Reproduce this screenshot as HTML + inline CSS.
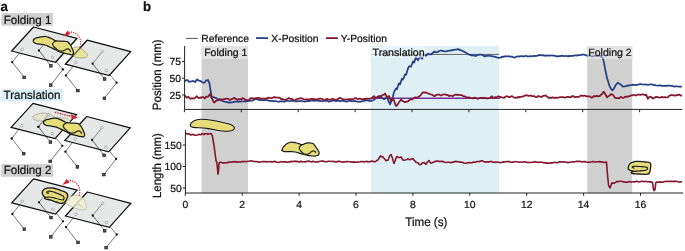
<!DOCTYPE html><html><head><meta charset="utf-8"><title>Figure</title><style>html,body{margin:0;padding:0;background:#fff}svg{display:block}text{font-family:"Liberation Sans",Arial,sans-serif;fill:#111;stroke:#111;stroke-width:0.22px;text-rendering:geometricPrecision}</style></head><body>
<svg width="685" height="251" viewBox="0 0 685 251">
<rect width="685" height="251" fill="#fff"/>
<rect x="201.6" y="46" width="46.4" height="147" fill="#d0d0d0"/>
<rect x="371" y="46" width="128" height="147" fill="#dff0f4"/>
<rect x="587.2" y="46" width="45" height="147" fill="#d0d0d0"/>
<rect x="201.6" y="46" width="46.4" height="13.1" fill="#e2e2e2"/>
<rect x="587.2" y="46" width="45" height="13.1" fill="#e2e2e2"/>
<path d="M371 54.4H499" stroke="#555" stroke-width="0.9" fill="none"/>
<path d="M371 98.3H500" stroke="#7a32a2" stroke-width="1.5" fill="none"/>
<path d="M184.6 81.3 L185.8 80.4 L187.0 80.0 L188.0 80.7 L189.0 81.9 L190.0 81.7 L191.1 81.3 L192.1 81.3 L193.1 80.9 L194.1 81.6 L195.2 81.9 L196.2 80.4 L197.2 79.3 L198.2 80.4 L199.2 80.7 L200.1 80.9 L201.1 81.4 L202.0 82.1 L203.0 82.5 L204.0 82.8 L205.0 82.1 L206.0 80.4 L207.0 80.5 L208.0 80.0 L209.4 83.2 L210.7 91.1 L211.7 96.6 L212.6 97.2 L213.6 97.1 L214.6 97.5 L215.5 97.8 L216.4 98.3 L217.3 99.0 L218.2 99.4 L219.3 99.5 L220.4 99.9 L221.4 100.6 L222.5 101.0 L223.6 101.3 L224.6 101.6 L225.5 101.8 L226.5 101.8 L227.5 102.3 L228.5 102.6 L229.4 102.4 L230.4 102.7 L231.4 102.4 L232.4 102.4 L233.4 102.2 L234.4 101.5 L235.5 101.9 L236.6 101.5 L237.6 101.5 L238.7 101.8 L239.8 101.5 L240.8 101.5 L241.7 101.1 L242.7 101.3 L243.7 101.5 L244.7 101.3 L245.6 101.5 L246.6 101.1 L247.7 101.1 L248.8 100.9 L249.8 100.8 L250.9 100.6 L252.0 100.7 L253.0 100.5 L254.0 99.7 L255.0 99.3 L256.0 98.9 L257.0 99.3 L258.0 99.6 L259.0 100.0 L260.0 100.2 L261.0 100.0 L262.0 100.0 L263.0 100.3 L264.0 100.0 L265.0 100.2 L266.0 100.2 L267.0 100.2 L268.0 100.3 L269.0 100.9 L270.0 100.8 L271.0 100.8 L272.0 100.9 L273.0 101.3 L274.0 101.0 L275.0 101.0 L276.0 101.2 L277.0 101.5 L278.0 101.7 L279.0 101.8 L280.0 101.4 L281.0 101.3 L282.0 101.2 L283.0 101.5 L284.0 101.8 L285.0 101.3 L286.0 101.0 L287.0 100.9 L288.0 100.8 L289.0 101.0 L290.0 101.1 L291.0 101.0 L292.0 100.6 L293.0 100.8 L294.0 100.8 L295.0 101.0 L296.0 101.4 L297.0 101.4 L298.0 101.2 L299.0 101.2 L300.0 101.2 L301.0 100.8 L302.0 101.2 L303.0 101.4 L304.0 101.5 L305.0 101.6 L306.0 101.3 L307.0 101.1 L308.0 100.8 L309.0 101.1 L310.0 100.8 L311.0 100.6 L312.0 100.6 L313.0 100.6 L314.0 100.8 L315.0 100.6 L316.0 100.5 L317.0 100.6 L318.0 100.6 L319.0 100.8 L320.0 100.7 L321.0 101.2 L322.0 101.3 L323.0 101.0 L324.0 100.9 L325.0 100.9 L326.0 100.9 L327.0 100.7 L328.0 101.2 L329.0 101.6 L330.0 101.3 L331.0 101.2 L332.0 100.8 L333.0 100.6 L334.0 100.7 L335.0 100.7 L336.0 101.1 L337.0 100.8 L338.0 100.5 L339.0 101.1 L340.0 101.1 L341.0 100.8 L342.0 100.9 L343.0 100.6 L344.0 100.8 L345.0 101.3 L346.0 101.5 L347.0 101.5 L348.0 101.1 L349.0 101.0 L350.0 100.8 L351.0 101.2 L352.0 101.2 L353.0 101.4 L354.0 101.1 L355.0 100.9 L356.0 101.3 L357.0 101.6 L358.0 101.7 L359.0 101.7 L360.0 101.8 L361.0 101.7 L362.0 101.2 L363.0 101.1 L364.0 101.0 L365.0 100.6 L366.0 100.4 L367.0 100.4 L368.0 100.4 L369.0 100.8 L370.0 101.1 L371.0 100.9 L372.0 100.7 L373.0 100.3 L374.0 99.8 L375.0 98.8 L376.0 97.9 L377.0 97.2 L378.0 96.6 L379.0 96.1 L380.0 95.9 L381.0 97.0 L382.0 97.9 L383.0 98.5 L384.0 99.2 L385.0 98.7 L386.0 97.5 L387.0 97.1 L388.0 99.7 L389.0 102.1 L390.0 104.4 L391.0 102.2 L392.0 99.9 L393.0 96.2 L394.0 92.0 L395.0 90.2 L396.0 88.5 L397.0 89.2 L398.0 86.0 L399.0 83.4 L400.0 84.4 L401.0 81.4 L402.0 78.7 L403.0 79.5 L404.0 77.1 L405.0 74.3 L406.0 74.9 L407.0 71.7 L408.0 68.5 L409.0 66.4 L410.0 66.3 L411.0 66.6 L412.0 64.0 L413.0 61.5 L414.0 62.6 L415.0 59.9 L416.0 57.1 L417.0 58.9 L418.0 60.2 L419.0 58.4 L420.0 56.5 L421.0 57.5 L422.0 58.8 L423.0 56.7 L424.0 54.6 L425.0 55.4 L426.0 55.7 L427.0 54.8 L428.0 53.6 L429.0 54.3 L430.0 54.3 L431.0 54.4 L432.0 53.5 L433.0 52.8 L434.0 51.6 L435.0 52.1 L436.0 52.1 L437.0 52.1 L438.0 51.8 L439.0 51.0 L440.0 50.8 L441.0 50.7 L442.0 50.6 L443.0 51.2 L444.0 51.1 L445.0 51.3 L446.0 51.4 L447.0 51.2 L448.0 50.8 L449.0 50.7 L450.0 50.5 L451.0 50.6 L452.0 50.1 L453.0 50.1 L454.0 49.9 L455.0 49.7 L456.0 49.7 L457.0 49.4 L458.0 49.1 L459.0 49.6 L460.0 50.1 L461.0 50.2 L462.0 50.7 L463.0 51.1 L464.0 51.6 L465.0 52.2 L466.0 52.7 L467.0 53.4 L468.0 54.0 L469.0 54.6 L470.0 54.8 L471.0 55.1 L472.0 55.5 L473.0 55.2 L474.0 55.4 L475.0 55.9 L476.0 55.9 L477.0 55.3 L478.0 54.9 L479.0 54.9 L480.0 54.5 L481.0 54.7 L482.0 54.8 L483.0 55.4 L484.0 55.9 L485.0 56.4 L486.0 55.8 L487.0 55.9 L488.0 55.9 L489.0 55.4 L490.0 55.7 L491.0 56.2 L492.0 56.0 L493.0 56.5 L494.0 56.5 L495.0 56.6 L496.0 57.2 L497.0 57.5 L498.0 57.5 L499.0 57.9 L500.0 57.7 L501.0 57.4 L502.0 56.9 L503.0 56.7 L504.0 56.8 L505.0 56.1 L506.0 56.4 L507.0 56.5 L508.0 56.2 L509.0 56.3 L510.0 56.6 L511.0 56.7 L512.0 56.5 L513.0 57.1 L514.0 57.3 L515.0 57.6 L516.0 56.9 L517.0 56.6 L518.0 56.2 L519.0 56.6 L520.0 56.3 L521.0 56.0 L522.0 56.0 L523.0 56.4 L524.0 56.4 L525.0 56.0 L526.0 55.8 L527.0 56.3 L528.0 56.4 L529.0 56.5 L530.0 56.2 L531.0 56.0 L532.0 56.4 L533.0 56.2 L534.0 55.7 L535.0 56.1 L536.0 55.9 L537.0 55.9 L538.0 55.2 L539.0 55.4 L540.0 54.8 L541.0 55.3 L542.0 55.3 L543.0 55.2 L544.0 55.4 L545.0 55.8 L546.0 55.6 L547.0 55.4 L548.0 55.7 L549.0 55.6 L550.0 55.5 L551.0 55.5 L552.0 55.4 L553.0 55.6 L554.0 55.7 L555.0 55.8 L556.0 56.3 L557.0 56.2 L558.0 56.3 L559.0 56.1 L560.0 56.2 L561.0 55.9 L562.0 55.9 L563.0 55.7 L564.0 56.1 L565.0 56.2 L566.0 55.9 L567.0 56.0 L568.0 56.4 L569.0 55.9 L570.0 56.2 L571.0 55.9 L572.0 55.8 L573.0 55.9 L574.0 55.6 L575.0 55.4 L576.0 55.4 L577.0 55.6 L578.0 55.1 L579.0 55.2 L580.0 55.1 L581.0 54.9 L582.0 54.6 L583.0 54.7 L584.0 54.7 L585.0 54.9 L586.0 55.1 L587.0 55.8 L588.0 55.7 L589.0 55.6 L590.0 55.4 L591.0 56.0 L592.0 56.3 L593.0 56.3 L594.0 56.0 L595.0 55.8 L596.0 55.8 L597.0 55.9 L598.0 55.7 L599.0 55.9 L600.0 55.9 L601.2 56.8 L602.5 57.5 L603.5 60.3 L604.2 64.0 L605.0 68.4 L606.0 73.0 L607.0 77.9 L608.0 81.1 L609.0 84.7 L610.0 86.8 L611.0 88.9 L611.8 89.5 L612.5 90.4 L613.2 89.3 L614.0 88.5 L615.0 86.4 L616.0 84.6 L617.0 83.6 L618.0 82.7 L619.0 83.4 L620.0 84.0 L621.0 85.0 L622.0 85.7 L623.0 86.6 L624.0 86.5 L625.0 86.3 L626.0 86.2 L627.0 85.7 L628.0 85.4 L629.0 85.7 L630.0 85.1 L631.0 85.2 L632.0 85.2 L633.0 84.6 L634.0 84.9 L635.0 85.1 L636.0 84.9 L637.0 84.9 L638.0 84.8 L639.0 84.3 L640.0 84.2 L641.0 84.2 L642.0 84.4 L643.0 84.5 L644.0 84.5 L645.0 84.3 L646.0 84.6 L647.0 84.7 L648.0 84.8 L649.0 84.6 L650.0 84.3 L651.0 84.4 L652.0 84.6 L653.0 84.5 L654.0 85.1 L655.0 85.2 L656.0 85.4 L657.0 85.5 L658.0 85.6 L659.0 85.6 L660.0 85.2 L661.0 85.6 L662.0 85.8 L663.0 85.8 L664.0 85.8 L665.0 85.9 L666.0 85.6 L667.0 85.9 L668.0 85.7 L669.0 85.5 L670.0 85.6 L671.0 86.0 L672.0 85.8 L673.0 86.2 L674.0 86.6 L675.0 86.4 L676.0 86.3 L677.0 86.3 L678.0 86.5 L679.0 86.7 L680.0 86.7 L681.0 86.7 L682.0 86.5" fill="none" stroke="#264086" stroke-width="1.75" stroke-linejoin="round"/>
<path d="M184.6 95.2 L185.5 96.3 L186.4 97.5 L187.4 97.5 L188.4 96.7 L189.4 98.1 L190.4 98.8 L191.5 98.4 L192.7 98.3 L193.8 98.6 L194.7 98.1 L195.6 97.4 L196.5 96.2 L197.6 97.2 L198.6 98.0 L199.5 97.9 L200.4 97.4 L201.3 97.9 L202.3 97.0 L203.3 97.1 L204.7 98.4 L205.8 97.1 L206.9 96.6 L208.0 96.6 L209.0 95.6 L210.0 93.9 L211.4 97.6 L212.3 99.0 L213.2 101.3 L214.1 102.5 L215.1 101.9 L216.2 100.7 L217.3 100.3 L218.4 100.4 L219.5 99.2 L220.5 99.5 L221.6 99.3 L222.6 99.6 L223.6 99.5 L224.5 98.8 L225.4 99.0 L226.3 98.6 L227.4 98.7 L228.6 99.0 L229.7 100.0 L230.6 99.7 L231.6 99.2 L232.5 98.6 L233.5 98.3 L234.4 97.9 L235.3 98.9 L236.2 98.8 L237.1 99.7 L238.0 99.8 L238.9 99.0 L239.8 99.4 L240.7 99.1 L241.6 99.1 L242.5 98.2 L243.4 98.5 L244.3 98.8 L245.2 99.9 L246.1 100.1 L247.1 100.1 L248.0 100.3 L249.0 99.6 L250.0 98.8 L251.0 98.1 L252.0 98.3 L253.0 98.2 L254.0 98.8 L255.0 98.4 L256.0 98.1 L257.0 98.2 L258.0 97.9 L259.0 97.8 L260.0 98.4 L261.0 98.7 L262.0 98.7 L263.0 98.5 L264.0 98.7 L265.0 98.8 L266.0 98.4 L267.0 98.4 L268.0 97.7 L269.0 98.0 L270.0 97.8 L271.0 98.0 L272.0 98.0 L273.0 97.6 L274.0 97.0 L275.0 97.7 L276.0 97.3 L277.0 97.5 L278.0 97.5 L279.0 97.5 L280.0 98.1 L281.0 99.0 L282.0 98.8 L283.0 99.4 L284.0 99.5 L285.0 100.0 L286.0 99.6 L287.0 99.0 L288.0 98.5 L289.0 98.1 L290.0 98.6 L291.0 98.8 L292.0 98.8 L293.0 99.7 L294.0 100.4 L295.0 100.3 L296.0 99.6 L297.0 99.1 L298.0 98.7 L299.0 98.6 L300.0 98.2 L301.0 98.3 L302.0 98.4 L303.0 98.9 L304.0 99.5 L305.0 99.7 L306.0 99.4 L307.0 99.3 L308.0 99.4 L309.0 99.3 L310.0 99.3 L311.0 98.8 L312.0 98.8 L313.0 99.5 L314.0 99.0 L315.0 99.1 L316.0 99.3 L317.0 99.6 L318.0 99.0 L319.0 98.8 L320.0 98.6 L321.0 98.7 L322.0 98.8 L323.0 99.5 L324.0 99.8 L325.0 100.0 L326.0 99.2 L327.0 98.8 L328.0 99.3 L329.0 99.8 L330.0 99.7 L331.0 99.6 L332.0 98.9 L333.0 98.8 L334.0 99.4 L335.0 99.5 L336.0 99.6 L337.0 99.7 L338.0 98.9 L339.0 98.3 L340.0 97.9 L341.0 98.3 L342.0 98.7 L343.0 99.3 L344.0 99.4 L345.0 99.5 L346.0 99.6 L347.0 99.4 L348.0 99.5 L349.0 99.0 L350.0 99.6 L351.0 99.1 L352.0 99.4 L353.0 99.2 L354.0 98.7 L355.0 98.1 L356.0 98.1 L357.0 98.7 L358.0 99.1 L359.0 98.7 L360.0 98.6 L361.0 99.0 L362.0 99.4 L363.0 99.2 L364.0 98.9 L365.0 99.1 L366.0 98.6 L367.0 98.5 L368.0 98.7 L369.0 99.0 L370.0 98.7 L371.0 98.6 L372.0 97.8 L373.0 96.9 L374.0 96.2 L375.0 97.3 L376.0 97.9 L377.0 98.0 L378.0 97.1 L379.0 97.0 L380.0 97.0 L381.0 96.3 L382.0 95.4 L383.0 95.0 L384.0 94.7 L385.0 93.5 L386.0 95.2 L387.0 97.5 L388.0 96.7 L389.0 96.0 L390.0 98.2 L391.0 101.1 L392.0 99.8 L393.0 98.2 L394.0 100.4 L395.0 103.7 L396.0 106.0 L397.0 105.4 L398.0 103.9 L399.0 102.1 L400.0 101.1 L401.0 99.3 L402.0 100.6 L403.0 101.2 L404.0 101.6 L405.0 102.2 L406.0 101.7 L407.0 101.5 L408.0 101.5 L409.0 100.4 L410.0 99.8 L411.0 99.1 L412.0 99.5 L413.0 98.7 L414.0 98.0 L415.0 97.4 L416.0 97.3 L417.0 97.6 L418.0 97.2 L419.0 96.4 L420.0 95.8 L421.0 94.9 L422.0 93.3 L423.0 92.3 L424.0 92.4 L425.0 92.8 L426.0 92.4 L427.0 93.0 L428.0 93.4 L429.0 93.8 L430.0 94.2 L431.0 94.5 L432.0 94.7 L433.0 95.3 L434.0 96.0 L435.0 96.0 L436.0 94.9 L437.0 94.8 L438.0 94.5 L439.0 94.5 L440.0 95.1 L441.0 95.5 L442.0 95.1 L443.0 94.4 L444.0 94.5 L445.0 94.4 L446.0 94.9 L447.0 94.8 L448.0 95.1 L449.0 96.0 L450.0 95.7 L451.0 95.6 L452.0 96.0 L453.0 96.1 L454.0 95.3 L455.0 94.8 L456.0 94.5 L457.0 95.1 L458.0 94.7 L459.0 94.9 L460.0 95.1 L461.0 95.1 L462.0 95.1 L463.0 96.0 L464.0 96.3 L465.0 96.4 L466.0 97.2 L467.0 97.4 L468.0 97.7 L469.0 97.2 L470.0 97.7 L471.0 98.1 L472.0 98.0 L473.0 98.4 L474.0 97.8 L475.0 97.7 L476.0 98.0 L477.0 98.5 L478.0 98.8 L479.0 98.3 L480.0 97.9 L481.0 97.8 L482.0 97.8 L483.0 98.3 L484.0 97.7 L485.0 98.1 L486.0 98.2 L487.0 98.3 L488.0 98.3 L489.0 98.1 L490.0 97.7 L491.0 96.9 L492.0 96.4 L493.0 97.5 L494.0 97.6 L495.0 97.2 L496.0 97.5 L497.0 97.0 L498.0 96.4 L499.0 96.4 L500.0 97.1 L501.0 96.9 L502.0 97.5 L503.0 97.7 L504.0 97.8 L505.0 97.0 L506.0 96.5 L507.0 96.2 L508.0 96.6 L509.0 97.0 L510.0 97.0 L511.0 96.4 L512.0 96.1 L513.0 96.9 L514.0 97.6 L515.0 97.7 L516.0 97.9 L517.0 97.7 L518.0 97.0 L519.0 97.4 L520.0 96.9 L521.0 96.8 L522.0 96.5 L523.0 96.6 L524.0 96.0 L525.0 95.6 L526.0 95.4 L527.0 95.2 L528.0 95.8 L529.0 95.8 L530.0 95.5 L531.0 95.5 L532.0 96.2 L533.0 96.1 L534.0 96.0 L535.0 96.7 L536.0 97.1 L537.0 97.1 L538.0 96.0 L539.0 96.1 L540.0 96.7 L541.0 96.8 L542.0 96.9 L543.0 95.9 L544.0 95.8 L545.0 95.6 L546.0 95.5 L547.0 96.8 L548.0 97.2 L549.0 98.0 L550.0 97.6 L551.0 98.0 L552.0 97.7 L553.0 97.4 L554.0 97.8 L555.0 98.2 L556.0 97.5 L557.0 97.7 L558.0 97.8 L559.0 97.4 L560.0 97.3 L561.0 97.1 L562.0 97.0 L563.0 97.0 L564.0 97.4 L565.0 97.6 L566.0 97.3 L567.0 96.8 L568.0 96.9 L569.0 97.3 L570.0 97.0 L571.0 97.0 L572.0 96.1 L573.0 96.0 L574.0 96.8 L575.0 97.1 L576.0 96.8 L577.0 96.9 L578.0 97.2 L579.0 97.0 L580.0 96.0 L581.0 95.4 L582.0 95.9 L583.0 95.8 L584.0 95.7 L585.0 95.6 L586.0 96.4 L587.0 96.2 L588.0 96.4 L589.0 96.4 L590.0 96.5 L591.0 97.2 L592.0 97.7 L593.0 96.8 L594.0 96.0 L595.0 96.5 L596.0 96.2 L597.0 95.9 L598.0 96.4 L599.0 96.0 L600.0 96.1 L601.0 94.7 L602.0 94.0 L602.8 93.0 L603.5 91.7 L604.2 92.3 L605.0 93.7 L606.0 95.5 L607.0 97.4 L608.0 96.3 L609.0 96.0 L610.0 95.0 L611.0 94.1 L612.0 94.4 L613.0 95.0 L614.0 96.2 L615.0 97.8 L616.0 98.2 L617.0 98.0 L618.0 98.2 L619.0 98.4 L620.0 97.5 L621.0 97.0 L622.0 97.6 L623.0 97.9 L624.0 97.5 L625.0 96.7 L626.0 97.0 L627.0 96.4 L628.0 96.6 L629.0 96.2 L630.0 96.1 L631.0 95.3 L632.0 95.5 L633.0 95.0 L634.0 94.8 L635.0 95.3 L636.0 95.5 L637.0 94.9 L638.0 94.7 L639.0 94.7 L640.0 94.9 L641.0 94.8 L642.0 94.4 L643.0 94.3 L644.0 94.8 L645.0 95.2 L646.0 94.5 L647.0 96.6 L648.0 98.8 L649.0 97.2 L650.0 96.7 L651.0 96.8 L652.0 97.8 L653.0 98.5 L654.0 98.1 L655.0 97.4 L656.0 96.8 L657.0 97.1 L658.0 97.2 L659.0 97.5 L660.0 97.5 L661.0 97.4 L662.0 96.9 L663.0 97.3 L664.0 97.4 L665.0 97.0 L666.0 97.3 L667.0 97.5 L668.0 97.2 L669.0 96.0 L670.0 95.4 L671.0 95.2 L672.0 95.1 L673.0 95.4 L674.0 95.2 L675.0 95.5 L676.0 95.5 L677.0 94.9 L678.0 95.1 L679.0 94.4 L680.0 95.1 L681.0 95.6 L682.0 95.5" fill="none" stroke="#84162f" stroke-width="1.75" stroke-linejoin="round"/>
<path d="M185.4 133.2 L186.2 133.3 L187.0 134.0 L188.0 133.7 L189.0 133.9 L189.8 134.0 L190.5 135.0 L191.2 134.9 L192.0 134.3 L193.0 134.8 L194.0 134.6 L195.0 135.3 L196.0 135.2 L197.0 135.0 L198.0 134.7 L199.0 134.3 L200.0 134.7 L201.0 134.6 L202.0 133.5 L203.0 133.9 L204.0 134.6 L205.0 133.7 L206.0 133.6 L207.0 133.7 L208.0 134.4 L209.0 133.7 L210.0 133.5 L210.8 134.1 L211.5 133.9 L212.3 135.7 L213.2 140.9 L214.2 146.8 L215.2 154.5 L216.0 160.6 L216.8 162.2 L217.5 169.0 L218.0 174.2 L218.5 170.5 L219.0 163.5 L219.8 162.2 L221.0 162.3 L222.0 162.7 L223.0 163.1 L224.0 162.7 L225.0 163.0 L226.0 162.7 L227.0 162.5 L228.0 162.6 L229.0 161.9 L230.0 162.2 L231.0 162.1 L232.0 161.8 L233.0 161.9 L234.0 161.5 L235.0 161.9 L236.0 161.9 L237.0 161.7 L238.0 162.1 L239.0 162.0 L240.0 161.8 L241.0 162.0 L242.0 161.4 L243.0 161.8 L244.0 161.4 L245.0 161.5 L246.0 161.8 L247.0 161.5 L248.0 161.3 L249.0 161.2 L250.0 161.0 L251.0 160.9 L252.0 161.1 L253.0 161.5 L254.0 161.4 L255.0 161.5 L256.0 161.8 L257.0 161.6 L258.0 161.7 L259.0 162.2 L260.0 162.0 L261.0 161.7 L262.0 161.8 L263.0 161.6 L264.0 161.6 L265.0 161.5 L266.0 161.8 L267.0 161.9 L268.0 161.6 L269.0 161.8 L270.0 161.8 L271.0 161.5 L272.0 162.1 L273.0 161.8 L274.0 161.6 L275.0 161.4 L276.0 161.8 L277.0 162.3 L278.0 162.5 L279.0 162.3 L280.0 162.1 L281.0 161.6 L282.0 161.9 L283.0 162.0 L284.0 161.8 L285.0 161.9 L286.0 161.8 L287.0 162.2 L288.0 162.1 L289.0 161.7 L290.0 162.0 L291.0 161.4 L292.0 161.6 L293.0 161.5 L294.0 161.4 L295.0 161.1 L296.0 161.7 L297.0 161.3 L298.0 161.5 L299.0 162.1 L300.0 161.6 L301.0 161.4 L302.0 161.6 L303.0 161.7 L304.0 161.8 L305.0 162.0 L306.0 161.5 L307.0 161.4 L308.0 161.3 L309.0 161.0 L310.0 161.5 L311.0 161.8 L312.0 161.9 L313.0 161.3 L314.0 161.8 L315.0 162.0 L316.0 161.8 L317.0 162.0 L318.0 161.9 L319.0 161.6 L320.0 161.3 L321.0 161.2 L322.0 161.0 L323.0 161.1 L324.0 161.5 L325.0 161.6 L326.0 161.8 L327.0 161.8 L328.0 161.3 L329.0 161.3 L330.0 161.2 L331.0 161.5 L332.0 161.5 L333.0 161.3 L334.0 161.5 L335.0 162.0 L336.0 161.6 L337.0 162.0 L338.0 161.4 L339.0 161.4 L340.0 161.4 L341.0 161.8 L342.0 162.1 L343.0 162.1 L344.0 161.8 L345.0 162.0 L346.0 161.7 L347.0 161.4 L348.0 161.8 L349.0 161.8 L350.0 161.8 L351.0 161.9 L352.0 162.2 L353.0 161.9 L354.0 162.1 L355.0 162.1 L356.0 162.2 L357.0 162.0 L358.0 162.1 L359.0 162.0 L360.0 161.8 L361.0 161.5 L362.0 161.8 L363.0 161.5 L364.0 162.0 L365.0 161.7 L366.0 161.4 L367.0 161.3 L368.0 162.0 L369.0 161.8 L370.0 161.6 L371.0 161.4 L372.0 161.1 L373.0 161.5 L374.0 161.6 L375.0 161.7 L376.0 161.3 L377.0 160.3 L378.0 160.0 L378.9 158.3 L379.7 157.1 L380.6 155.8 L381.8 156.8 L383.0 156.9 L384.0 158.3 L385.0 159.5 L386.0 160.7 L387.0 160.3 L388.0 160.3 L389.0 157.8 L390.0 155.3 L391.0 154.5 L391.8 156.5 L392.5 158.3 L393.2 160.9 L394.0 163.4 L394.8 161.5 L395.5 159.6 L396.2 157.7 L397.0 156.5 L398.0 157.0 L399.0 157.7 L400.0 157.5 L401.0 156.9 L402.0 158.5 L403.0 160.1 L404.0 160.3 L405.0 160.0 L406.0 159.8 L407.0 159.5 L408.0 158.7 L409.0 159.4 L410.0 159.8 L411.0 159.1 L412.0 159.0 L413.0 158.8 L414.0 160.2 L415.0 160.9 L416.0 162.2 L417.0 162.6 L418.0 162.8 L419.0 164.2 L420.0 164.8 L421.0 164.4 L422.0 163.3 L423.0 162.7 L424.0 162.4 L425.0 163.4 L426.0 164.4 L427.0 162.6 L428.0 161.6 L429.0 160.5 L430.0 162.2 L431.0 163.2 L432.0 162.9 L433.0 162.3 L434.0 162.2 L435.0 161.4 L436.0 161.3 L437.0 161.1 L438.0 161.0 L439.0 161.4 L440.0 161.5 L441.0 161.3 L442.0 161.6 L443.0 161.4 L444.0 161.9 L445.0 162.2 L446.0 162.5 L447.0 162.5 L448.0 162.3 L449.0 162.3 L450.0 162.4 L451.0 162.7 L452.0 162.1 L453.0 162.4 L454.0 161.8 L455.0 161.6 L456.0 161.4 L457.0 161.8 L458.0 161.6 L459.0 161.7 L460.0 162.3 L461.0 162.1 L462.0 162.3 L463.0 162.6 L464.0 163.0 L465.0 163.3 L466.0 163.3 L467.0 163.0 L468.0 162.7 L469.0 162.5 L470.0 162.9 L471.0 162.8 L472.0 162.8 L473.0 162.2 L474.0 162.0 L475.0 162.2 L476.0 162.1 L477.0 161.5 L478.0 161.5 L479.0 161.8 L480.0 161.3 L481.0 160.9 L482.0 160.8 L483.0 161.0 L484.0 161.8 L485.0 161.9 L486.0 162.1 L487.0 161.9 L488.0 161.9 L489.0 161.9 L490.0 161.6 L491.0 161.6 L492.0 161.6 L493.0 162.2 L494.0 162.4 L495.0 161.9 L496.0 162.5 L497.0 162.0 L498.0 162.0 L499.0 162.5 L500.0 162.6 L501.0 162.6 L502.0 162.3 L503.0 161.9 L504.0 162.1 L505.0 161.7 L506.0 161.6 L507.0 161.7 L508.0 161.4 L509.0 161.6 L510.0 162.0 L511.0 162.2 L512.0 162.1 L513.0 162.1 L514.0 162.0 L515.0 161.6 L516.0 161.8 L517.0 161.7 L518.0 162.0 L519.0 162.3 L520.0 162.0 L521.0 162.0 L522.0 162.2 L523.0 162.0 L524.0 161.7 L525.0 162.0 L526.0 162.3 L527.0 162.4 L528.0 162.4 L529.0 162.5 L530.0 162.5 L531.0 162.4 L532.0 162.2 L533.0 162.0 L534.0 162.2 L535.0 161.8 L536.0 161.9 L537.0 162.3 L538.0 162.4 L539.0 162.4 L540.0 162.1 L541.0 162.2 L542.0 162.3 L543.0 162.6 L544.0 162.5 L545.0 162.8 L546.0 163.3 L547.0 162.9 L548.0 163.1 L549.0 163.2 L550.0 162.9 L551.0 162.8 L552.0 163.2 L553.0 162.5 L554.0 162.5 L555.0 162.2 L556.0 162.5 L557.0 162.7 L558.0 162.5 L559.0 161.9 L560.0 161.9 L561.0 161.9 L562.0 162.0 L563.0 161.9 L564.0 161.9 L565.0 162.0 L566.0 162.1 L567.0 162.3 L568.0 162.9 L569.0 162.3 L570.0 162.3 L571.0 162.0 L572.0 162.0 L573.0 161.6 L574.0 162.1 L575.0 161.8 L576.0 161.4 L577.0 161.4 L578.0 161.5 L579.0 161.2 L580.0 161.4 L581.0 161.5 L582.0 161.9 L583.0 161.7 L584.0 161.6 L585.0 161.5 L586.0 161.9 L587.0 162.3 L588.0 162.2 L589.0 161.9 L590.0 162.2 L591.0 162.0 L592.0 161.7 L593.0 161.4 L594.0 161.8 L595.0 162.1 L596.0 162.0 L597.0 161.8 L598.0 161.8 L599.0 161.5 L600.0 161.9 L601.1 161.7 L602.2 161.9 L603.2 162.2 L604.3 162.4 L605.4 162.2 L606.5 161.9 L607.5 175.0 L608.5 184.7 L609.2 186.6 L610.0 187.9 L611.0 185.3 L612.0 182.9 L613.0 183.1 L614.0 183.2 L615.0 182.8 L616.0 182.1 L617.0 181.3 L618.0 181.7 L619.0 181.4 L620.0 181.2 L621.0 181.3 L622.0 181.5 L623.0 181.6 L624.0 181.9 L625.0 182.2 L626.0 181.9 L627.0 182.2 L628.0 182.2 L629.0 181.5 L630.0 181.7 L631.0 182.0 L632.0 182.1 L633.0 181.6 L634.0 181.9 L635.0 181.9 L636.0 181.4 L637.0 181.1 L638.0 181.8 L639.0 182.0 L640.0 181.7 L641.0 181.4 L642.0 181.2 L643.0 181.2 L644.0 181.7 L645.0 181.5 L646.0 181.3 L647.0 181.8 L648.0 182.0 L649.0 181.5 L650.0 181.9 L651.2 182.1 L652.5 182.4 L653.5 189.4 L654.0 190.6 L655.0 189.6 L655.8 182.6 L656.8 182.0 L657.9 182.1 L659.0 182.0 L660.0 182.1 L661.0 181.9 L662.0 182.2 L663.0 182.1 L664.0 181.7 L665.0 181.5 L666.0 181.3 L667.0 181.5 L668.0 181.3 L669.0 181.5 L670.0 181.3 L671.0 181.4 L672.0 181.4 L673.0 181.4 L674.0 181.7 L675.0 181.0 L676.0 181.4 L677.0 181.5 L678.0 181.7 L679.0 182.0 L680.0 182.1 L681.0 181.8 L682.0 181.6" fill="none" stroke="#84162f" stroke-width="1.6" stroke-linejoin="round"/>
<rect x="371" y="46" width="54" height="11.8" fill="#eef8fb" fill-opacity="0.6"/>
<rect x="587.2" y="46" width="45" height="13.1" fill="#e2e2e2" fill-opacity="0.5"/>
<text x="204.2" y="56.2" font-size="10.5">Folding 1</text>
<text x="372.6" y="55.8" font-size="10.6">Translation</text>
<text x="588.3" y="56.2" font-size="10.55">Folding 2</text>
<g stroke="#222" stroke-width="1" fill="none">
<path d="M184.6 46V109.4H682.3"/>
<path d="M185.4 130V193H683"/>
<path d="M184.4 109.4v2.8M185.3 193v2.8"/>
<path d="M241.3 109.4v2.8M242.2 193v2.8"/>
<path d="M298.2 109.4v2.8M299.1 193v2.8"/>
<path d="M355.1 109.4v2.8M356.0 193v2.8"/>
<path d="M412.0 109.4v2.8M412.9 193v2.8"/>
<path d="M468.9 109.4v2.8M469.8 193v2.8"/>
<path d="M525.8 109.4v2.8M526.7 193v2.8"/>
<path d="M582.7 109.4v2.8M583.6 193v2.8"/>
<path d="M639.6 109.4v2.8M640.5 193v2.8"/>
<path d="M182 61.4H184.6"/>
<path d="M182 78.2H184.6"/>
<path d="M182 95.0H184.6"/>
<path d="M182.8 145.0H185.4"/>
<path d="M182.8 166.5H185.4"/>
<path d="M182.8 188.0H185.4"/>
</g>
<text x="185.3" y="207.6" font-size="10.35" text-anchor="middle">0</text>
<text x="242.2" y="207.6" font-size="10.35" text-anchor="middle">2</text>
<text x="299.1" y="207.6" font-size="10.35" text-anchor="middle">4</text>
<text x="356.0" y="207.6" font-size="10.35" text-anchor="middle">6</text>
<text x="412.9" y="207.6" font-size="10.35" text-anchor="middle">8</text>
<text x="469.8" y="207.6" font-size="10.35" text-anchor="middle">10</text>
<text x="526.7" y="207.6" font-size="10.35" text-anchor="middle">12</text>
<text x="583.6" y="207.6" font-size="10.35" text-anchor="middle">14</text>
<text x="640.5" y="207.6" font-size="10.35" text-anchor="middle">16</text>
<text x="180.9" y="65.1" font-size="10.35" text-anchor="end">75</text>
<text x="180.9" y="81.9" font-size="10.35" text-anchor="end">50</text>
<text x="180.9" y="98.7" font-size="10.35" text-anchor="end">25</text>
<text x="181.8" y="148.7" font-size="10.35" text-anchor="end">150</text>
<text x="181.8" y="170.2" font-size="10.35" text-anchor="end">100</text>
<text x="181.8" y="191.7" font-size="10.35" text-anchor="end">50</text>
<text transform="translate(405.2,225.6) scale(0.955,1)" font-size="12.2">Time (s)</text>
<text transform="translate(160.8,74.8) rotate(-90) scale(0.955,1)" font-size="12" text-anchor="middle">Position (mm)</text>
<text transform="translate(160.6,165.6) rotate(-90) scale(0.955,1)" font-size="12" text-anchor="middle">Length (mm)</text>
<path d="M186 38.4H197.8" stroke="#555" stroke-width="1"/>
<text x="201.3" y="42" font-size="10.35">Reference</text>
<path d="M256 38.1H268" stroke="#264086" stroke-width="1.8"/>
<text x="271.3" y="42" font-size="10.35">X-Position</text>
<path d="M326 38.1H337.9" stroke="#84162f" stroke-width="1.8"/>
<text x="340.8" y="42" font-size="10.35">Y-Position</text>
<text x="142.9" y="11" font-size="13.3" font-weight="bold">b</text>
<path d="M190.3 124.8C190.6 122.3 195.5 119.2 200.5 119.2C208 119.3 221 121.8 229 124C233.5 125.3 235 127.2 234.2 128.8C233.2 130.8 229.5 131.5 225 131.2C219 130.8 213 129.3 207 128.4C201 127.6 196.5 128 193.3 127.4C191.2 127 190.1 126 190.3 124.800Z" fill="#e6dc7a" stroke="#1c1c1c" stroke-width="1.1"/>
<path d="M282.1 149.4C282.8 147.7 282.4 147.8 284.8 145.5C287.2 143.2 286.3 143.6 289.2 142.6C292.1 141.6 290.3 142.0 293.5 142.4C296.7 142.8 295.9 143.0 298.8 143.7C301.7 144.4 299.7 144.8 302.3 144.6C304.9 144.4 303.5 143.5 306.7 143.1C309.9 142.7 309.4 142.5 312.0 143.3C314.6 144.1 312.7 143.3 314.6 145.5C316.5 147.7 316.2 147.2 317.7 149.8C319.2 152.4 319.2 151.5 319.0 153.4C318.8 155.3 319.3 154.6 317.2 155.5C315.1 156.4 316.3 156.1 312.8 156.0C309.3 155.9 310.5 155.8 306.7 155.1C302.9 154.4 305.2 154.8 301.4 153.8C297.6 152.8 299.4 152.7 295.3 152.0C291.2 151.3 292.7 151.7 289.2 151.6C285.7 151.5 287.0 151.9 284.8 151.6C282.6 151.3 283.5 151.4 282.6 150.7C281.7 150.0 281.4 151.1 282.1 149.4Z" fill="#e6dc7a" stroke="#1c1c1c" stroke-width="1.2"/>
<path d="M302.3 144.6C301.4 145.3 300.6 145.2 299.7 146.8C298.8 148.4 298.8 147.5 299.7 149.4C300.6 151.3 300.3 150.9 302.3 152.5C304.3 154.1 303.5 153.9 305.8 154.2C308.1 154.5 307.2 154.4 309.3 153.4C311.4 152.4 310.2 151.9 312.0 151.2C313.8 150.5 313.3 150.7 314.6 151.3C315.9 151.9 315.5 152.4 315.9 152.9" fill="none" stroke="#1c1c1c" stroke-width="1.1"/>
<path d="M628.3 167.8C628.6 166.2 628.0 166.2 629.6 164.3C631.2 162.4 630.3 163.1 633.2 162.1C636.1 161.1 634.3 161.4 638.4 161.4C642.5 161.4 641.7 161.6 645.4 162.0C649.1 162.4 647.6 161.7 649.4 162.6C651.2 163.5 650.4 162.6 650.7 164.8C651.0 167.0 650.7 166.6 650.3 169.2C649.9 171.8 650.4 171.0 649.4 172.7C648.4 174.4 649.7 173.7 647.2 174.2C644.7 174.7 645.7 174.3 641.9 174.2C638.1 174.1 639.0 174.0 635.8 173.8C632.6 173.6 633.8 174.0 632.3 173.5C630.8 173.0 631.1 172.9 631.4 172.2C631.7 171.5 633.5 172.0 633.2 171.4C632.9 170.8 632.0 171.2 630.5 170.5C629.0 169.8 629.3 170.1 628.6 169.2C627.9 168.3 628.0 169.4 628.3 167.8Z" fill="#e6dc7a" stroke="#1c1c1c" stroke-width="1.3"/>
<path d="M634.5 168.2C633.8 167.9 632.5 168.0 632.3 167.4C632.1 166.8 631.7 166.7 634.0 166.4C636.3 166.1 635.5 166.3 639.3 166.5C643.1 166.7 642.7 166.4 645.4 167.0C648.1 167.6 647.1 167.3 647.4 168.3C647.7 169.3 648.1 169.2 646.3 170.0C644.5 170.8 645.1 170.3 641.9 170.7C638.7 171.1 639.6 170.9 636.7 171.1C633.8 171.3 634.4 171.3 633.2 171.4" fill="none" stroke="#1c1c1c" stroke-width="1.2"/>
<text x="0.6" y="11" font-size="13.3" font-weight="bold">a</text>
<rect x="1.3" y="13.1" width="51.8" height="12.7" fill="#d0d0d0"/>
<text transform="translate(3.7,23.9) scale(0.975,1)" font-size="11.9">Folding 1</text>
<rect x="1.3" y="89.1" width="61.5" height="12.2" fill="#dcf0f6"/>
<text transform="translate(3.6,99.3) scale(0.975,1)" font-size="11.9">Translation</text>
<rect x="1.3" y="164.1" width="51.8" height="12.7" fill="#d0d0d0"/>
<text transform="translate(3.7,173.8) scale(0.975,1)" font-size="11.9">Folding 2</text>
<path d="M22.2 49.3 L12.2 62.2 L24.2 77.4" stroke="#262626" stroke-width="0.62" fill="none"/><path d="M52.7 57.4 L62.9 69.5 L50.7 85.1" stroke="#262626" stroke-width="0.62" fill="none"/><path d="M38.9 50.5 L50.9 65.8" stroke="#262626" stroke-width="0.62" fill="none"/><path d="M75.9 62.5 L65.9 75.4 L77.9 90.6" stroke="#262626" stroke-width="0.62" fill="none"/><path d="M106.4 70.6 L116.6 82.7 L104.4 98.3" stroke="#262626" stroke-width="0.62" fill="none"/><path d="M92.6 63.7 L104.6 79.0" stroke="#262626" stroke-width="0.62" fill="none"/><path d="M33.5 27.0L77.0 38.4L55.5 62.3L11.6 51.0Z" fill="#e2e3e3" fill-opacity="0.86" stroke="#0d0d0d" stroke-width="1.2" stroke-linejoin="miter"/><path d="M87.2 40.2L130.7 51.6L109.2 75.5L65.3 64.2Z" fill="#e2e3e3" fill-opacity="0.86" stroke="#0d0d0d" stroke-width="1.2" stroke-linejoin="miter"/><path d="M48.8 38.2L38.9 50.5" stroke="#3a3a3a" stroke-width="0.55" fill="none"/><path d="M38.9 50.5 L47.2 61.1" stroke="#262626" stroke-width="0.62" fill="none"/><circle cx="22.2" cy="49.3" r="1.25" fill="#f6f6f6" stroke="#777" stroke-width="0.5"/><circle cx="48.8" cy="38.2" r="1.25" fill="#f6f6f6" stroke="#777" stroke-width="0.5"/><circle cx="52.7" cy="57.4" r="1.25" fill="#f6f6f6" stroke="#777" stroke-width="0.5"/><circle cx="12.2" cy="62.2" r="1.15" fill="#111"/><circle cx="38.9" cy="50.5" r="1.15" fill="#111"/><circle cx="62.9" cy="69.5" r="1.15" fill="#111"/><rect x="22.9" y="76.1" width="2.6" height="2.6" fill="#555" stroke="#151515" stroke-width="0.65"/><rect x="49.6" y="64.5" width="2.6" height="2.6" fill="#555" stroke="#151515" stroke-width="0.65"/><rect x="49.4" y="83.8" width="2.6" height="2.6" fill="#555" stroke="#151515" stroke-width="0.65"/><path d="M102.5 51.4L92.6 63.7" stroke="#3a3a3a" stroke-width="0.55" fill="none"/><path d="M92.6 63.7 L100.9 74.3" stroke="#262626" stroke-width="0.62" fill="none"/><circle cx="75.9" cy="62.5" r="1.25" fill="#f6f6f6" stroke="#777" stroke-width="0.5"/><circle cx="102.5" cy="51.4" r="1.25" fill="#f6f6f6" stroke="#777" stroke-width="0.5"/><circle cx="106.4" cy="70.6" r="1.25" fill="#f6f6f6" stroke="#777" stroke-width="0.5"/><circle cx="65.9" cy="75.4" r="1.15" fill="#111"/><circle cx="92.6" cy="63.7" r="1.15" fill="#111"/><circle cx="116.6" cy="82.7" r="1.15" fill="#111"/><rect x="76.6" y="89.3" width="2.6" height="2.6" fill="#555" stroke="#151515" stroke-width="0.65"/><rect x="103.3" y="77.7" width="2.6" height="2.6" fill="#555" stroke="#151515" stroke-width="0.65"/><rect x="103.1" y="97.0" width="2.6" height="2.6" fill="#555" stroke="#151515" stroke-width="0.65"/>
<path d="M21.7 125.6 L11.7 138.5 L23.7 153.7" stroke="#262626" stroke-width="0.62" fill="none"/><path d="M52.2 133.7 L62.4 145.8 L50.2 161.4" stroke="#262626" stroke-width="0.62" fill="none"/><path d="M38.4 126.8 L50.4 142.1" stroke="#262626" stroke-width="0.62" fill="none"/><path d="M75.4 138.8 L65.4 151.7 L77.4 166.9" stroke="#262626" stroke-width="0.62" fill="none"/><path d="M105.9 146.9 L116.1 159.0 L103.9 174.6" stroke="#262626" stroke-width="0.62" fill="none"/><path d="M92.1 140.0 L104.1 155.3" stroke="#262626" stroke-width="0.62" fill="none"/><path d="M33.0 103.3L76.5 114.7L55.0 138.6L11.1 127.3Z" fill="#e2e3e3" fill-opacity="0.86" stroke="#0d0d0d" stroke-width="1.2" stroke-linejoin="miter"/><path d="M86.7 116.5L130.2 127.9L108.7 151.8L64.8 140.5Z" fill="#e2e3e3" fill-opacity="0.86" stroke="#0d0d0d" stroke-width="1.2" stroke-linejoin="miter"/><path d="M48.3 114.5L38.4 126.8" stroke="#3a3a3a" stroke-width="0.55" fill="none"/><path d="M38.4 126.8 L46.7 137.4" stroke="#262626" stroke-width="0.62" fill="none"/><circle cx="21.7" cy="125.6" r="1.25" fill="#f6f6f6" stroke="#777" stroke-width="0.5"/><circle cx="48.3" cy="114.5" r="1.25" fill="#f6f6f6" stroke="#777" stroke-width="0.5"/><circle cx="52.2" cy="133.7" r="1.25" fill="#f6f6f6" stroke="#777" stroke-width="0.5"/><circle cx="11.7" cy="138.5" r="1.15" fill="#111"/><circle cx="38.4" cy="126.8" r="1.15" fill="#111"/><circle cx="62.4" cy="145.8" r="1.15" fill="#111"/><rect x="22.4" y="152.4" width="2.6" height="2.6" fill="#555" stroke="#151515" stroke-width="0.65"/><rect x="49.1" y="140.8" width="2.6" height="2.6" fill="#555" stroke="#151515" stroke-width="0.65"/><rect x="48.9" y="160.1" width="2.6" height="2.6" fill="#555" stroke="#151515" stroke-width="0.65"/><path d="M102.0 127.7L92.1 140.0" stroke="#3a3a3a" stroke-width="0.55" fill="none"/><path d="M92.1 140.0 L100.4 150.6" stroke="#262626" stroke-width="0.62" fill="none"/><circle cx="75.4" cy="138.8" r="1.25" fill="#f6f6f6" stroke="#777" stroke-width="0.5"/><circle cx="102.0" cy="127.7" r="1.25" fill="#f6f6f6" stroke="#777" stroke-width="0.5"/><circle cx="105.9" cy="146.9" r="1.25" fill="#f6f6f6" stroke="#777" stroke-width="0.5"/><circle cx="65.4" cy="151.7" r="1.15" fill="#111"/><circle cx="92.1" cy="140.0" r="1.15" fill="#111"/><circle cx="116.1" cy="159.0" r="1.15" fill="#111"/><rect x="76.1" y="165.6" width="2.6" height="2.6" fill="#555" stroke="#151515" stroke-width="0.65"/><rect x="102.8" y="154.0" width="2.6" height="2.6" fill="#555" stroke="#151515" stroke-width="0.65"/><rect x="102.6" y="173.3" width="2.6" height="2.6" fill="#555" stroke="#151515" stroke-width="0.65"/>
<path d="M22.3 201.1 L12.3 214.0 L24.3 229.2" stroke="#262626" stroke-width="0.62" fill="none"/><path d="M52.8 209.2 L63.0 221.3 L50.8 236.9" stroke="#262626" stroke-width="0.62" fill="none"/><path d="M39.0 202.3 L51.0 217.6" stroke="#262626" stroke-width="0.62" fill="none"/><path d="M76.0 214.3 L66.0 227.2 L78.0 242.4" stroke="#262626" stroke-width="0.62" fill="none"/><path d="M106.5 222.4 L116.7 234.5 L106.1 247.6" stroke="#262626" stroke-width="0.62" fill="none"/><path d="M92.7 215.5 L104.7 230.8" stroke="#262626" stroke-width="0.62" fill="none"/><path d="M33.6 178.8L77.1 190.2L55.6 214.1L11.7 202.8Z" fill="#e2e3e3" fill-opacity="0.86" stroke="#0d0d0d" stroke-width="1.2" stroke-linejoin="miter"/><path d="M87.3 192.0L130.8 203.4L109.3 227.3L65.4 216.0Z" fill="#e2e3e3" fill-opacity="0.86" stroke="#0d0d0d" stroke-width="1.2" stroke-linejoin="miter"/><path d="M48.9 190.0L39.0 202.3" stroke="#3a3a3a" stroke-width="0.55" fill="none"/><path d="M39.0 202.3 L47.3 212.9" stroke="#262626" stroke-width="0.62" fill="none"/><circle cx="22.3" cy="201.1" r="1.25" fill="#f6f6f6" stroke="#777" stroke-width="0.5"/><circle cx="48.9" cy="190.0" r="1.25" fill="#f6f6f6" stroke="#777" stroke-width="0.5"/><circle cx="52.8" cy="209.2" r="1.25" fill="#f6f6f6" stroke="#777" stroke-width="0.5"/><circle cx="12.3" cy="214.0" r="1.15" fill="#111"/><circle cx="39.0" cy="202.3" r="1.15" fill="#111"/><circle cx="63.0" cy="221.3" r="1.15" fill="#111"/><rect x="23.0" y="227.9" width="2.6" height="2.6" fill="#555" stroke="#151515" stroke-width="0.65"/><rect x="49.7" y="216.3" width="2.6" height="2.6" fill="#555" stroke="#151515" stroke-width="0.65"/><rect x="49.5" y="235.6" width="2.6" height="2.6" fill="#555" stroke="#151515" stroke-width="0.65"/><path d="M102.6 203.2L92.7 215.5" stroke="#3a3a3a" stroke-width="0.55" fill="none"/><path d="M92.7 215.5 L101.0 226.1" stroke="#262626" stroke-width="0.62" fill="none"/><circle cx="76.0" cy="214.3" r="1.25" fill="#f6f6f6" stroke="#777" stroke-width="0.5"/><circle cx="102.6" cy="203.2" r="1.25" fill="#f6f6f6" stroke="#777" stroke-width="0.5"/><circle cx="106.5" cy="222.4" r="1.25" fill="#f6f6f6" stroke="#777" stroke-width="0.5"/><circle cx="66.0" cy="227.2" r="1.15" fill="#111"/><circle cx="92.7" cy="215.5" r="1.15" fill="#111"/><circle cx="116.7" cy="234.5" r="1.15" fill="#111"/><rect x="76.7" y="241.1" width="2.6" height="2.6" fill="#555" stroke="#151515" stroke-width="0.65"/><rect x="103.4" y="229.5" width="2.6" height="2.6" fill="#555" stroke="#151515" stroke-width="0.65"/><rect x="104.8" y="246.3" width="2.6" height="2.6" fill="#555" stroke="#151515" stroke-width="0.65"/>
<path d="M72.6 50.0C73.1 48.4 71.9 48.6 73.5 47.6C75.1 46.6 74.6 46.5 77.4 47.0C80.2 47.5 79.1 47.5 81.8 49.2C84.5 50.9 83.7 50.3 85.5 52.2C87.3 54.1 87.0 53.3 87.2 55.0C87.4 56.7 87.6 56.2 86.2 57.2C84.8 58.2 85.6 57.7 83.0 57.9C80.4 58.1 81.2 58.1 78.5 57.8C75.8 57.5 77.0 57.9 75.0 57.0C73.0 56.1 73.6 56.7 72.6 55.2C71.6 53.7 72.0 54.2 72.0 52.5C72.0 50.8 72.1 51.6 72.6 50.0Z" fill="#e9e48e" fill-opacity="0.82" stroke="#85856e" stroke-width="0.6"/>
<path d="M77 38.4L55.5 62.3M87.2 40.2L65.300 64.2" stroke="#0d0d0d" stroke-width="1.3" stroke-opacity="0.55" fill="none"/>
<path d="M33.3 41.0C33.1 39.5 33.0 40.0 34.8 38.8C36.6 37.6 35.7 38.1 38.8 37.3C41.9 36.5 40.8 36.5 44.0 36.5C47.2 36.5 45.5 36.4 48.4 37.3C51.3 38.2 50.2 38.1 52.8 39.3C55.4 40.5 53.7 40.2 56.3 40.8C58.9 41.4 57.5 41.0 60.7 41.2C63.9 41.4 63.4 41.0 66.0 41.5C68.6 42.0 67.0 41.4 68.6 42.8C70.2 44.2 69.5 43.6 70.8 45.8C72.1 48.0 71.6 47.2 72.5 49.4C73.4 51.6 73.4 50.7 73.4 52.4C73.4 54.1 73.8 53.9 72.5 54.6C71.2 55.3 72.0 54.8 69.5 54.4C67.0 54.0 68.3 54.1 65.1 53.3C61.9 52.5 63.0 53.2 59.8 52.0C56.6 50.8 58.6 51.4 55.4 49.8C52.2 48.2 53.7 48.8 50.2 47.2C46.7 45.6 48.4 46.0 44.9 45.0C41.4 44.0 42.8 44.7 39.6 44.1C36.4 43.5 37.4 44.2 35.3 43.2C33.2 42.2 33.5 42.5 33.3 41.0Z" fill="#e6dc7a" stroke="#1c1c1c" stroke-width="1.25"/>
<path d="M56.3 40.8C55.3 41.5 54.3 41.3 53.2 42.8C52.1 44.3 52.3 43.7 53.0 45.4C53.7 47.1 53.7 46.4 55.4 48.0C57.1 49.6 56.0 49.2 58.1 50.2C60.2 51.2 59.4 51.1 61.6 51.1C63.8 51.1 62.9 50.9 64.6 50.2C66.3 49.5 65.2 49.3 66.8 49.1C68.4 48.9 68.3 48.6 69.5 49.6C70.7 50.6 70.2 51.2 70.5 52.0" fill="none" stroke="#1c1c1c" stroke-width="1.15"/>
<path d="M80 47C81.5 42.5 80.5 37.5 77 34.5C74.5 32.3 71.5 31.8 69 32.2" fill="none" stroke="#d8222a" stroke-width="1.3" stroke-dasharray="1.2 1.2"/>
<path d="M63.3 36.5L67.6 30.4L70.4 34Z" fill="#d8222a"/>
<g transform="translate(-0.3,76.6)"><path d="M33.3 41.0C33.1 39.5 33.0 40.0 34.8 38.8C36.6 37.6 35.7 38.1 38.8 37.3C41.9 36.5 40.8 36.5 44.0 36.5C47.2 36.5 45.5 36.4 48.4 37.3C51.3 38.2 50.2 38.1 52.8 39.3C55.4 40.5 53.7 40.2 56.3 40.8C58.9 41.4 57.5 41.0 60.7 41.2C63.9 41.4 63.4 41.0 66.0 41.5C68.6 42.0 67.0 41.4 68.6 42.8C70.2 44.2 69.5 43.6 70.8 45.8C72.1 48.0 71.6 47.2 72.5 49.4C73.4 51.6 73.4 50.7 73.4 52.4C73.4 54.1 73.8 53.9 72.5 54.6C71.2 55.3 72.0 54.8 69.5 54.4C67.0 54.0 68.3 54.1 65.1 53.3C61.9 52.5 63.0 53.2 59.8 52.0C56.6 50.8 58.6 51.4 55.4 49.8C52.2 48.2 53.7 48.8 50.2 47.2C46.7 45.6 48.4 46.0 44.9 45.0C41.4 44.0 42.8 44.7 39.6 44.1C36.4 43.5 37.4 44.2 35.3 43.2C33.2 42.2 33.5 42.5 33.3 41.0Z" fill="#e4e4cf" stroke="#8a8a80" stroke-width="0.55"/></g>
<path d="M48.3 114.5L38.4 126.800" stroke="#444" stroke-width="0.55" fill="none"/><circle cx="48.3" cy="114.5" r="1.25" fill="#f6f6f6" stroke="#777" stroke-width="0.5"/><circle cx="38.4" cy="126.8" r="1.15" fill="#111"/>
<g transform="translate(9.6,81.0) scale(1.02)"><path d="M33.3 41.0C33.1 39.5 33.0 40.0 34.8 38.8C36.6 37.6 35.7 38.1 38.8 37.3C41.9 36.5 40.8 36.5 44.0 36.5C47.2 36.5 45.5 36.4 48.4 37.3C51.3 38.2 50.2 38.1 52.8 39.3C55.4 40.5 53.7 40.2 56.3 40.8C58.9 41.4 57.5 41.0 60.7 41.2C63.9 41.4 63.4 41.0 66.0 41.5C68.6 42.0 67.0 41.4 68.6 42.8C70.2 44.2 69.5 43.6 70.8 45.8C72.1 48.0 71.6 47.2 72.5 49.4C73.4 51.6 73.4 50.7 73.4 52.4C73.4 54.1 73.8 53.9 72.5 54.6C71.2 55.3 72.0 54.8 69.5 54.4C67.0 54.0 68.3 54.1 65.1 53.3C61.9 52.5 63.0 53.2 59.8 52.0C56.6 50.8 58.6 51.4 55.4 49.8C52.2 48.2 53.7 48.8 50.2 47.2C46.7 45.6 48.4 46.0 44.9 45.0C41.4 44.0 42.8 44.7 39.6 44.1C36.4 43.5 37.4 44.2 35.3 43.2C33.2 42.2 33.5 42.5 33.3 41.0Z" fill="#e6dc7a" stroke="#1c1c1c" stroke-width="1.25"/><path d="M56.3 40.8C55.3 41.5 54.3 41.3 53.2 42.8C52.1 44.3 52.3 43.7 53.0 45.4C53.7 47.1 53.7 46.4 55.4 48.0C57.1 49.6 56.0 49.2 58.1 50.2C60.2 51.2 59.4 51.1 61.6 51.1C63.8 51.1 62.9 50.9 64.6 50.2C66.3 49.5 65.2 49.3 66.8 49.1C68.4 48.9 68.3 48.6 69.5 49.6C70.7 50.6 70.2 51.2 70.5 52.0" fill="none" stroke="#1c1c1c" stroke-width="1.15"/></g>
<path d="M55.1 112.2L71 116.5" fill="none" stroke="#d8222a" stroke-width="1.4" stroke-dasharray="1.3 1.1"/>
<path d="M78 117.7L71 114.2L71.6 119.6Z" fill="#d8222a"/>
<path d="M65.6 200.0C65.9 198.1 65.7 199.0 67.5 197.8C69.3 196.6 68.6 197.0 71.1 196.3C73.6 195.6 72.5 195.8 75.0 195.6C77.5 195.4 76.0 195.0 78.5 195.8C81.0 196.6 80.4 196.1 82.5 198.0C84.6 199.9 83.6 199.2 84.8 201.5C86.0 203.8 85.7 202.6 86.0 205.0C86.3 207.4 86.6 207.0 85.6 208.6C84.6 210.2 85.5 209.7 83.0 209.8C80.5 209.9 81.2 209.7 78.0 209.0C74.8 208.3 76.2 208.6 73.5 207.6C70.8 206.6 72.1 207.3 69.8 206.0C67.5 204.7 67.9 205.6 66.5 203.6C65.1 201.6 65.3 201.9 65.6 200.0Z" fill="#f0efd2" fill-opacity="0.82" stroke="#a0a090" stroke-width="0.5"/>
<path d="M73 206.6C75.5 204.2 78 204.200 80 205.2C81.5 206 82.300 207.2 82.8 208.4" fill="none" stroke="#a0a090" stroke-width="0.5"/>
<path d="M42.3 192.8C42.3 190.9 42.1 191.6 43.5 190.1C44.9 188.6 44.0 189.1 46.5 188.4C49.0 187.7 47.7 187.8 50.9 187.9C54.1 188.0 52.7 187.9 56.2 188.8C59.7 189.7 58.3 189.4 61.4 190.6C64.5 191.8 63.4 191.0 65.4 192.3C67.4 193.6 66.8 192.6 67.4 194.5C68.0 196.4 67.8 195.8 67.1 198.0C66.4 200.2 66.7 199.5 65.4 201.1C64.1 202.7 64.8 202.2 63.2 202.9C61.6 203.6 62.9 203.6 60.6 203.3C58.3 203.0 59.4 203.0 56.2 202.0C53.0 201.0 54.1 201.2 50.9 200.2C47.7 199.2 48.5 199.7 46.5 199.1C44.5 198.5 45.4 199.1 44.8 198.5C44.2 197.9 45.2 198.1 44.8 197.2C44.4 196.3 44.3 197.3 43.5 195.8C42.7 194.3 42.3 194.7 42.3 192.8Z" fill="#e6dc7a" stroke="#1c1c1c" stroke-width="1.35"/>
<path d="M49.2 193.2C48.5 193.1 47.5 193.4 47.0 192.8C46.5 192.2 46.2 191.9 47.8 191.5C49.4 191.1 48.7 190.9 51.8 191.5C54.9 192.1 53.7 191.9 57.1 193.2C60.5 194.5 59.6 194.1 61.9 195.4C64.2 196.7 63.3 195.9 63.9 197.2C64.5 198.5 64.4 198.5 63.6 199.4C62.8 200.3 63.9 200.1 61.4 199.8C58.9 199.5 59.7 199.4 56.2 198.5C52.7 197.6 54.1 197.6 50.9 197.2C47.7 196.8 48.5 197.2 46.5 197.2C44.5 197.2 45.4 197.2 44.8 197.2" fill="none" stroke="#1c1c1c" stroke-width="1.15"/>
<g transform="translate(-0.9,148.6)"><path d="M80 47C81.5 42.5 80.5 37.5 77 34.5C74.5 32.3 71.5 31.8 69 32.2" fill="none" stroke="#d8222a" stroke-width="1.3" stroke-dasharray="1.2 1.2"/><path d="M63.3 36.5L67.6 30.4L70.4 34Z" fill="#d8222a"/></g>
</svg></body></html>
